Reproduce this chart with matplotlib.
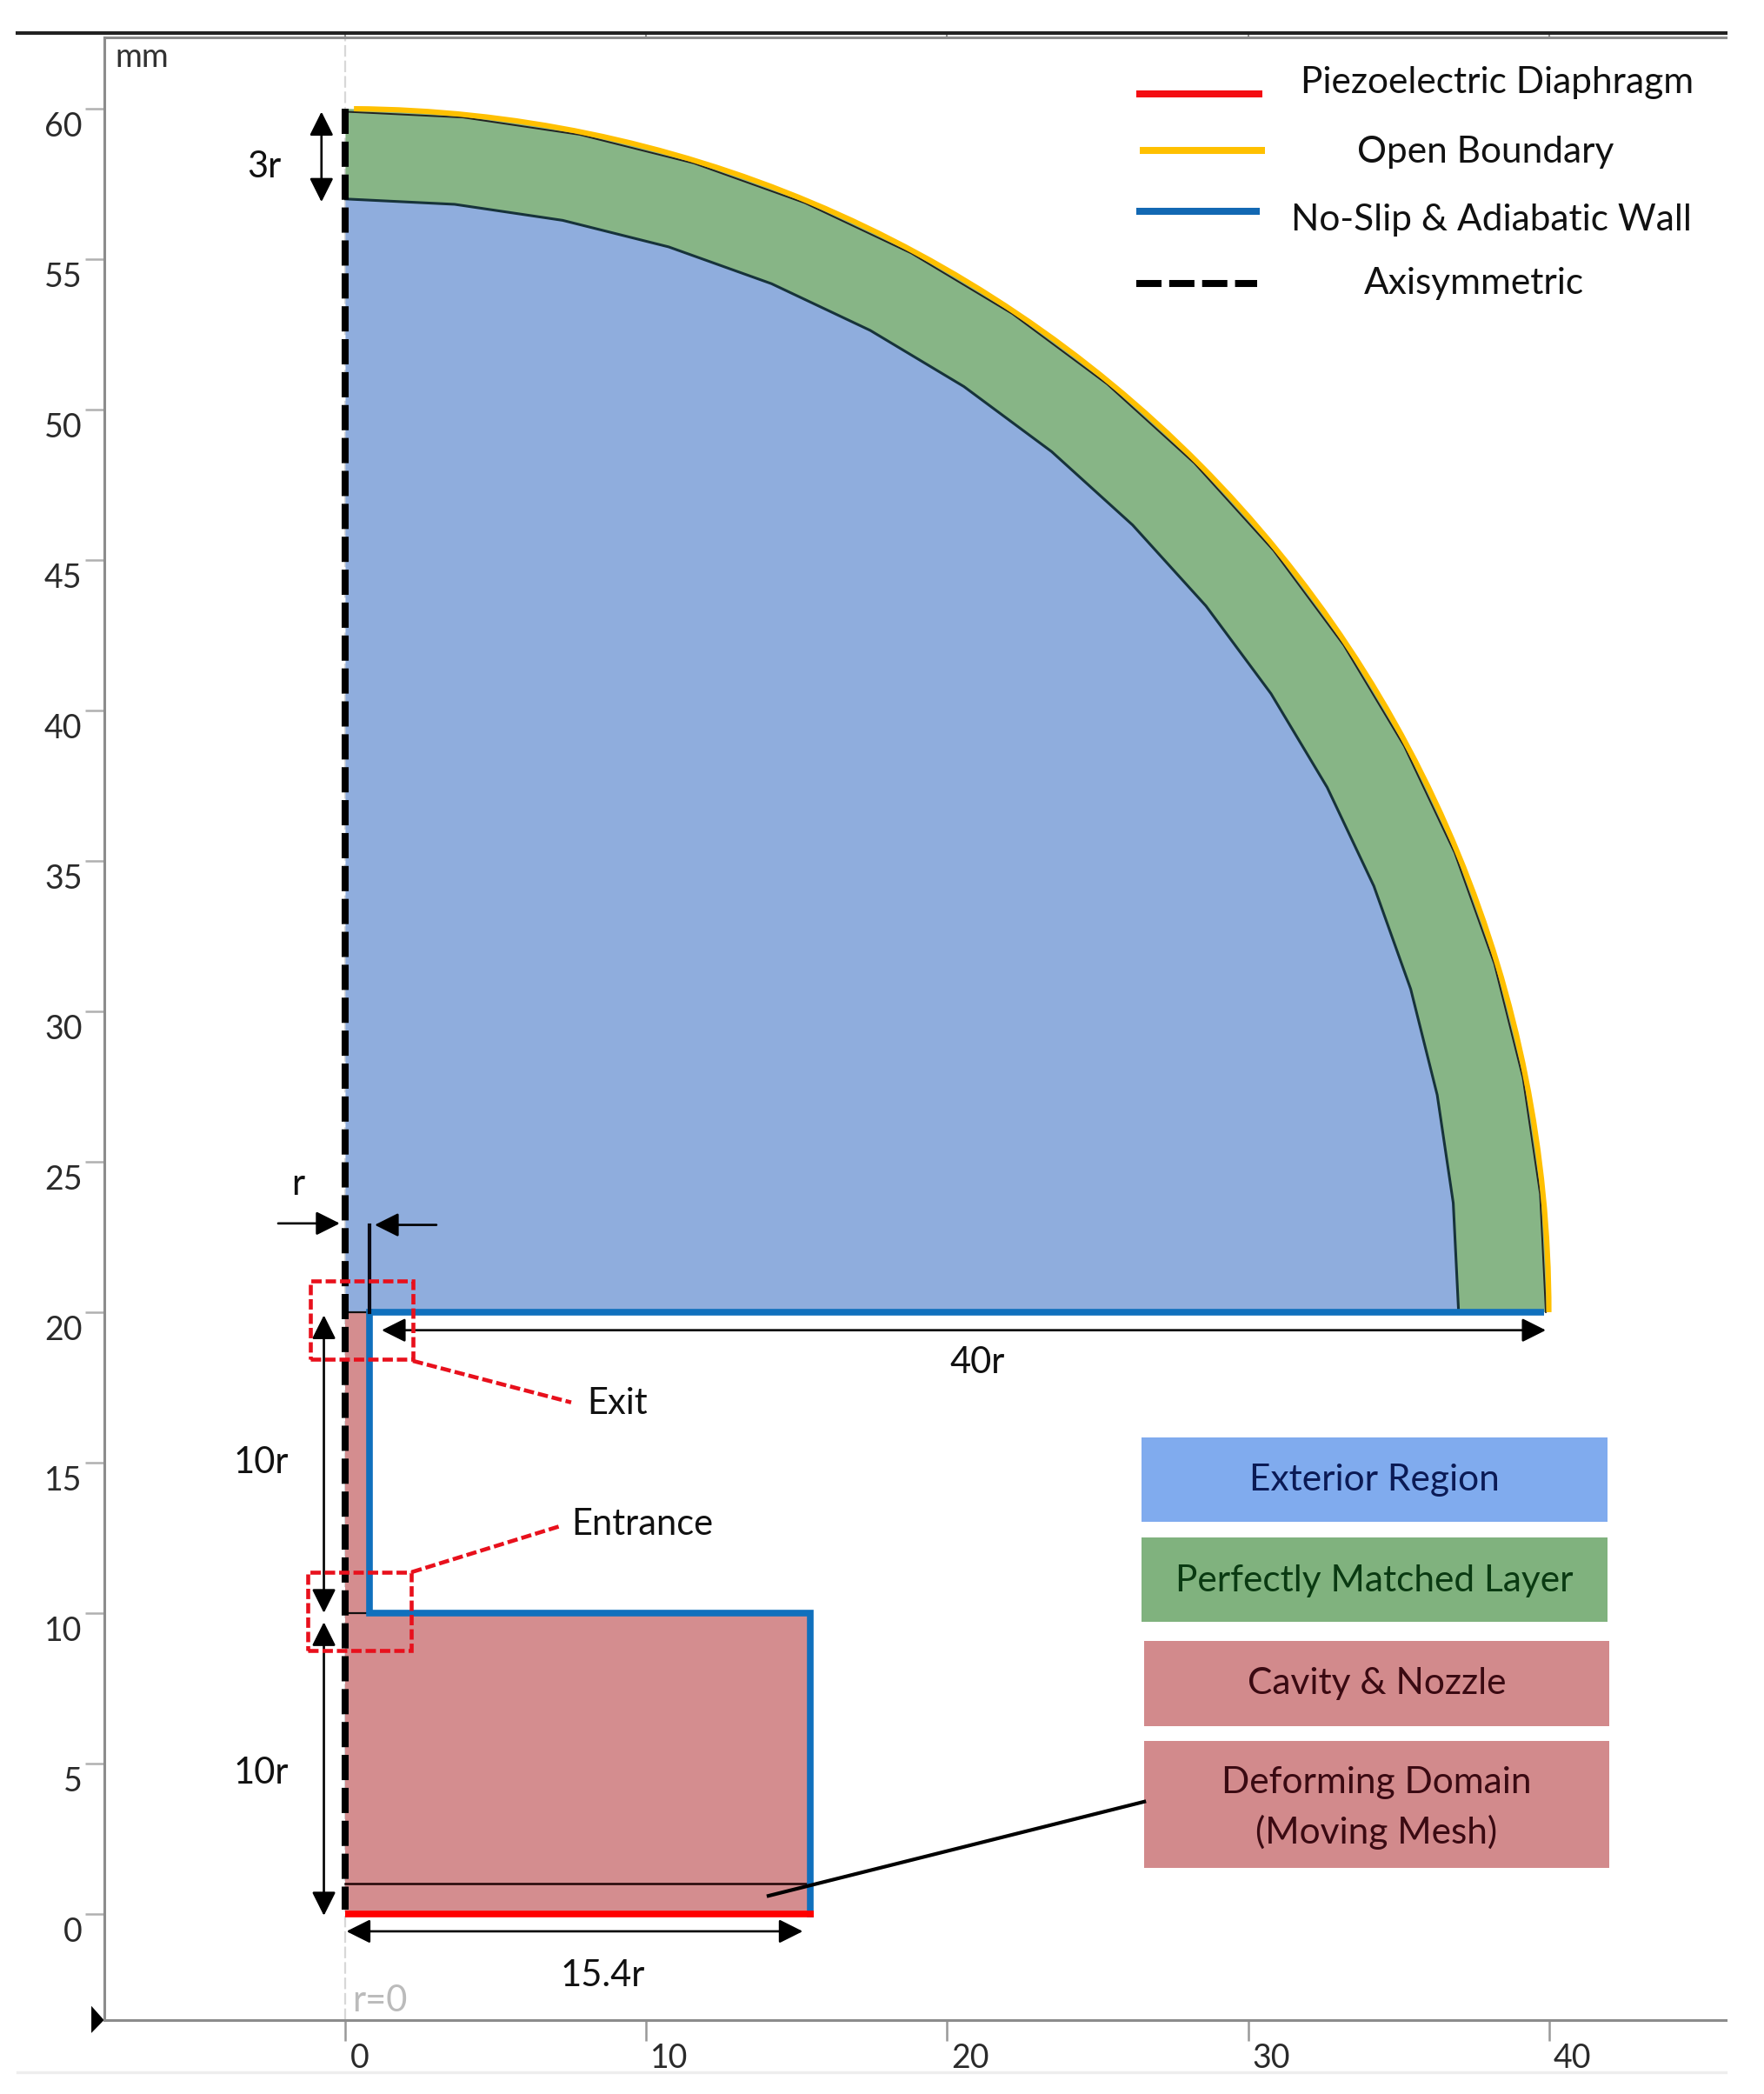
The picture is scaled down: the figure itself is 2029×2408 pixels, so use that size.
import matplotlib
matplotlib.use("Agg")
import matplotlib.pyplot as plt
import numpy as np
from matplotlib.patches import Arc, Rectangle, Polygon
from matplotlib.transforms import ScaledTranslation

plt.rcParams['font.family'] = ['Lato', 'DejaVu Sans']

# geometry in mm
r_outer = 40.0
r_inner = 37.0
dome_y = 20.0
nozzle_r = 0.8
nozzle_y = [10.0, 20.0]
cavity_r = 15.45
cavity_y = [0.0, 10.0]
mesh_y = 1.0
n_facets = 16  # the meshed arcs are made of straight chords

x_ticks = [0, 10, 20, 30, 40]
y_ticks = [0, 5, 10, 15, 20, 25, 30, 35, 40, 45, 50, 55, 60]

legend_names = ['Piezoelectric Diaphragm', 'Open Boundary', 'No-Slip & Adiabatic Wall', 'Axisymmetric']
legend_colors = ['#f40d12', '#ffc000', '#1268b3', '#000000']
box_names = ['Exterior Region', 'Perfectly Matched Layer', 'Cavity & Nozzle', 'Deforming Domain\n(Moving Mesh)']
box_colors = ['#80abee', '#80b27e', '#d28a8c', '#d28a8c']
box_text_colors = ['#0b1a55', '#0a3a12', '#3a0a12', '#3a0a12']

BLUE_FILL = '#8faddd'
GREEN_FILL = '#87b586'
RED_FILL = '#d48d8f'
WALL = '#1070bd'
GRID = '#8c8c8c'
DASH = (0, (3.6, 1.1))
RED_DASH = (0, (2.6, 1.0))


def chords(radius):
    angle = np.radians(np.linspace(0, 90, n_facets + 1))
    return np.column_stack([radius * np.cos(angle), dome_y + radius * np.sin(angle)])


fig = plt.figure(figsize=(20.29, 24.08), dpi=100)
ax = fig.add_axes([119.6 / 2029, 1 - 2323 / 2408, 1865.4 / 2029, 2280 / 2408])
ax.set_xlim(-8.03, 45.88)
ax.set_ylim(-3.53, 62.37)

for side in ['top', 'left', 'bottom']:
    ax.spines[side].set_color(GRID)
    ax.spines[side].set_linewidth(2.2)
ax.spines['right'].set_visible(False)

ax.set_xticks(x_ticks)
ax.set_yticks(y_ticks)
ax.tick_params(axis='x', length=17, width=1.8, color='#999999', labelsize=27, pad=2, labelcolor='#2a2a2a')
ax.tick_params(axis='y', length=16, width=1.8, color='#b0b0b0', labelsize=27, pad=2, labelcolor='#2a2a2a')
for lab in ax.get_xticklabels():
    lab.set_ha('left')
    lab.set_transform(lab.get_transform() + ScaledTranslation(0.05, 0, fig.dpi_scale_trans))
for lab in ax.get_yticklabels():
    lab.set_va('top')
    lab.set_transform(lab.get_transform() + ScaledTranslation(0, -0.03, fig.dpi_scale_trans))

top_ax = ax.secondary_xaxis('top')
top_ax.set_xticks(x_ticks)
top_ax.tick_params(length=4, width=1.5, color=GRID, labeltop=False)
top_ax.spines['top'].set_visible(False)

# r=0 guide
ax.axvline(0, color='#d8d8d8', lw=1.6, ls=(0, (6, 2)), zorder=0)
ax.text(0.22, -2.9, 'r=0', color='#bbbbbb', fontsize=30, va='center', ha='left')

# domains
outer_pts = chords(r_outer)
inner_pts = chords(r_inner)
edge_pts = chords(r_outer - 0.1)
ax.add_patch(Polygon(np.vstack([outer_pts, inner_pts[::-1]]), fc=GREEN_FILL, ec='none', zorder=1))
ax.add_patch(Polygon(np.vstack([inner_pts, [[0, dome_y]]]), fc=BLUE_FILL, ec='none', zorder=1))
ax.add_patch(Rectangle((0, nozzle_y[0]), nozzle_r, nozzle_y[1] - nozzle_y[0], fc=RED_FILL, ec='none', zorder=1))
ax.add_patch(Rectangle((0, cavity_y[0]), cavity_r, cavity_y[1] - cavity_y[0], fc=RED_FILL, ec='none', zorder=1))

# boundaries
ax.plot(inner_pts[:, 0], inner_pts[:, 1], color='#17333a', lw=2.2, zorder=2)
ax.plot(edge_pts[:, 0], edge_pts[:, 1], color='#222222', lw=1.4, zorder=2)
ax.add_patch(Arc((0, dome_y), 2 * r_outer, 2 * r_outer, theta1=0, theta2=89.6, color=legend_colors[1], lw=4.4, zorder=3))

ax.plot([0, nozzle_r], [nozzle_y[1], nozzle_y[1]], color='#111111', lw=1.6, zorder=2)
ax.plot([0, nozzle_r], [nozzle_y[0], nozzle_y[0]], color='#111111', lw=1.6, zorder=2)
ax.plot([0, cavity_r], [mesh_y, mesh_y], color='#200505', lw=1.8, zorder=2)
ax.plot([nozzle_r, r_outer - 0.15], [dome_y, dome_y], color=WALL, lw=5.5, solid_capstyle='butt', zorder=3)
ax.plot([nozzle_r, nozzle_r, cavity_r, cavity_r], [dome_y, nozzle_y[0], nozzle_y[0], cavity_y[0]],
        color=WALL, lw=5.5, solid_joinstyle='miter', zorder=3)
ax.plot([0, cavity_r + 0.1], [0, 0], color='#ff0000', lw=5.5, solid_capstyle='butt', zorder=4)
ax.plot([-0.02, -0.02], [60, 0.15], color='black', lw=5.8, ls=DASH, dash_capstyle='butt', zorder=5)


def arrow(start, end, style='-|>'):
    ax.annotate('', xy=end, xytext=start, zorder=6,
                arrowprops=dict(arrowstyle=style + ',head_length=0.7,head_width=0.35', mutation_scale=24,
                                color='black', lw=1.9, shrinkA=0, shrinkB=0))


arrow((-0.8, 56.9), (-0.8, 59.9), '<|-|>')
arrow((-2.24, 22.95), (-0.19, 22.95))
arrow((3.02, 22.9), (0.97, 22.9))
arrow((-0.72, 10.0), (-0.72, 19.9), '<|-|>')
arrow((-0.72, -0.06), (-0.72, 9.7), '<|-|>')
arrow((1.2, 19.4), (39.9, 19.4), '<|-|>')
arrow((0.03, -0.58), (15.2, -0.58), '<|-|>')
ax.plot([nozzle_r, nozzle_r], [dome_y, 22.9], color='#0a0a14', lw=3, zorder=4)

# dimension labels
dim_labels = ['3r', 'r', '10r', '10r', '40r', '15.4r']
dim_x = [-2.7, -1.58, -2.82, -2.82, 21.0, 8.54]
dim_y = [58.07, 24.25, 15.0, 4.69, 18.33, -2.05]
for s, dx, dy in zip(dim_labels, dim_x, dim_y):
    ax.text(dx, dy, s, fontsize=30, color='#111111', ha='center', va='center')

# exit / entrance markers
ax.add_patch(Rectangle((-1.18, 18.44), 3.42, 2.6, fc='none', ec='#e8101c', lw=3.3, ls=RED_DASH, zorder=7))
ax.add_patch(Rectangle((-1.26, 8.76), 3.43, 2.6, fc='none', ec='#e8101c', lw=3.3, ls=RED_DASH, zorder=7))
ax.plot([2.24, 7.5], [18.38, 17.0], color='#e8101c', lw=3.3, ls=RED_DASH, zorder=7)
ax.plot([2.2, 7.17], [11.36, 12.9], color='#e8101c', lw=3.3, ls=RED_DASH, zorder=7)
ax.text(8.03, 16.97, 'Exit', fontsize=30, color='#111111', ha='left', va='center')
ax.text(7.5, 12.95, 'Entrance', fontsize=30, color='#111111', ha='left', va='center')

# line legend
line_x0 = [26.3, 26.4, 26.3, 26.3]
line_x1 = [30.47, 30.55, 30.4, 30.3]
line_y = [60.5, 58.6, 56.6, 54.2]
text_x = [38.27, 37.9, 38.1, 37.5]
text_y = [60.87, 58.55, 56.3, 54.2]
for i, name in enumerate(legend_names):
    style = DASH if name == 'Axisymmetric' else '-'
    ax.plot([line_x0[i], line_x1[i]], [line_y[i], line_y[i]], color=legend_colors[i], lw=5.8,
            ls=style, dash_capstyle='butt', solid_capstyle='butt')
    ax.text(text_x[i], text_y[i], name, fontsize=30.5, color='#111111', ha='center', va='center')

# domain legend
box_x0 = [26.46, 26.46, 26.54, 26.54]
box_x1 = [41.95, 41.95, 42.0, 42.0]
box_y0 = [13.02, 9.71, 6.24, 1.53]
box_y1 = [15.84, 12.51, 9.08, 5.75]
text_shift = [0, -0.04, 0, -0.12]
for i, name in enumerate(box_names):
    ax.add_patch(Rectangle((box_x0[i], box_y0[i]), box_x1[i] - box_x0[i], box_y1[i] - box_y0[i],
                           fc=box_colors[i], ec='none', zorder=2))
    ax.text((box_x0[i] + box_x1[i]) / 2, (box_y0[i] + box_y1[i]) / 2 + text_shift[i], name, fontsize=30.5,
            color=box_text_colors[i], ha='center', va='center', linespacing=1.55, zorder=3)
ax.plot([14.06, 26.55], [0.6, 3.73], color='black', lw=3, zorder=8)

ax.text(-7.65, 61.7, 'mm', fontsize=27, color='#333333', ha='left', va='center')

# frame decorations outside the axes
ax.plot([-10.9, 45.88], [62.52, 62.52], color='#222222', lw=2.9, clip_on=False)
ax.plot([-10.9, 45.88], [-5.26, -5.26], color='#eeeeee', lw=2.4, clip_on=False)
ax.add_patch(Polygon([(-8.45, -3.06), (-8.03, -3.53), (-8.45, -3.96)], fc='black', ec='none', clip_on=False))

fig.savefig('out.png', dpi=100)
